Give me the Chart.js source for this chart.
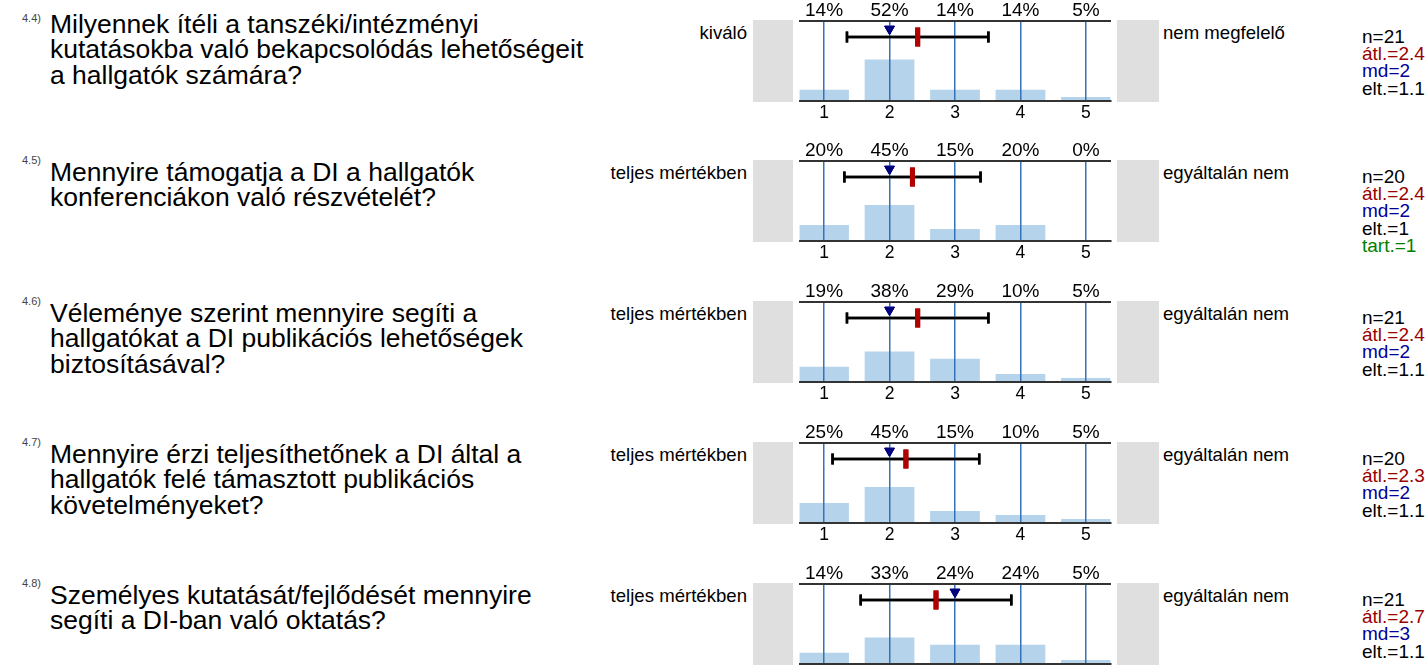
<!DOCTYPE html>
<html>
<head>
<meta charset="utf-8">
<title>DI kérdőív 4.4–4.8</title>
<script src="https://cdn.jsdelivr.net/npm/chart.js@4"></script>
<style>
  html, body { margin: 0; padding: 0; background: #fff; }
  body { position: relative; width: 1426px; height: 666px; overflow: hidden;
         font-family: "Liberation Sans", Arial, sans-serif; color: #000; }
  .abs { position: absolute; white-space: nowrap; }
  .code { font-size: 11px; line-height: 11px; color: #444; left: 22px; }
  .question { font-size: 26.5px; line-height: 25.5px; left: 50px; }
  .scale { font-size: 18.6px; line-height: 20px; }
  .stats { font-size: 19px; line-height: 17.2px; left: 1362px; }
  .box { position: absolute; background: #dfdfdf; }
  canvas { position: absolute; }
</style>
</head>
<body>
<script>
// answer options on the 1..5 scale
const categories = [1, 2, 3, 4, 5]

const codes = ['4.4)', '4.5)', '4.6)', '4.7)', '4.8)']
const questions = [
  ['Milyennek ítéli a tanszéki/intézményi', 'kutatásokba való bekapcsolódás lehetőségeit', 'a hallgatók számára?'],
  ['Mennyire támogatja a DI a hallgatók', 'konferenciákon való részvételét?'],
  ['Véleménye szerint mennyire segíti a', 'hallgatókat a DI publikációs lehetőségek', 'biztosításával?'],
  ['Mennyire érzi teljesíthetőnek a DI által a', 'hallgatók felé támasztott publikációs', 'követelményeket?'],
  ['Személyes kutatását/fejlődését mennyire', 'segíti a DI-ban való oktatás?']
]
const leftLabels = ['kiváló', 'teljes mértékben', 'teljes mértékben', 'teljes mértékben', 'teljes mértékben']
const rightLabels = ['nem megfelelő', 'egyáltalán nem', 'egyáltalán nem', 'egyáltalán nem', 'egyáltalán nem']

// share of answers per option, %
const percents = [
  [14, 52, 14, 14, 5],
  [20, 45, 15, 20, 0],
  [19, 38, 29, 10, 5],
  [25, 45, 15, 10, 5],
  [14, 33, 24, 24, 5]
]
// mean marker and whisker (mean ± sd), median triangle
const means = [2.43, 2.35, 2.43, 2.25, 2.71]
const sds = [1.08, 1.04, 1.08, 1.12, 1.15]
const medians = [2, 2, 2, 2, 3]

// stats column
const ns = [21, 20, 21, 20, 21]
const meanTexts = ['2.4', '2.4', '2.4', '2.3', '2.7']
const sdTexts = ['1.1', '1', '1.1', '1.1', '1.1']
const abstain = [null, 1, null, null, null]

// layout
const firstTop = 20.7
const panelStep = 140.75
const plotH = 80
const topAxisH = 24
const bottomAxisH = 26
const canvasLeft = 785
const canvasW = 340
const whiskerLevel = 80
const medianLevel = 90
const questionShift = [-9.5, -1.5, -1.5, -1.5, -1.5]

Chart.defaults.font.family = '"Liberation Sans", Arial, sans-serif'
Chart.defaults.color = '#000'

function addDiv(cls, html, css) {
  const d = document.createElement('div')
  d.className = cls
  d.innerHTML = html
  Object.assign(d.style, css)
  document.body.appendChild(d)
  return d
}

// draws the whisker + markers again so they sit above the blue grid lines
const overlay = {
  id: 'overlay',
  afterDraw(chart) {
    for (let k = chart.data.datasets.length - 1; k >= 0; k--) {
      if (chart.data.datasets[k].type === 'line') chart.getDatasetMeta(k).controller.draw()
    }
  }
}

percents.forEach((pct, i) => {
  const top = Math.round(firstTop + i * panelStep)

  addDiv('abs code', codes[i], { top: (top - 6.5 + (i === 0 ? -2 : 0)) + 'px' })
  addDiv('abs question', questions[i].join('<br>'), { top: (top + questionShift[i]) + 'px' })
  addDiv('abs scale', leftLabels[i], { top: (top + 1.5) + 'px', right: (1426 - 747) + 'px', textAlign: 'right' })
  addDiv('abs scale', rightLabels[i], { top: (top + 1.5) + 'px', left: '1163px' })

  let stats = 'n=' + ns[i] +
    '<br><span style="color:#990000">átl.=' + meanTexts[i] + '</span>' +
    '<br><span style="color:#000099">md=' + medians[i] + '</span>' +
    '<br>elt.=' + sdTexts[i]
  if (abstain[i] !== null) stats += '<br><span style="color:#008000">tart.=' + abstain[i] + '</span>'
  addDiv('abs stats', stats, { top: (top + 7) + 'px' })

  addDiv('box', '', { left: '753px', width: '40px', top: (top - 1) + 'px', height: (plotH + 2) + 'px' })
  addDiv('box', '', { left: '1117px', width: '42px', top: (top - 1) + 'px', height: (plotH + 2) + 'px' })

  const canvas = document.createElement('canvas')
  canvas.width = canvasW
  canvas.height = topAxisH + plotH + bottomAxisH
  canvas.style.left = canvasLeft + 'px'
  canvas.style.top = (top - topAxisH) + 'px'
  document.body.appendChild(canvas)

  const setTicks = s => { s.ticks = categories.map(v => ({ value: v })) }

  new Chart(canvas, {
    type: 'bar',
    data: {
      datasets: [
        {
          type: 'line',
          data: [{ x: medians[i], y: medianLevel }],
          showLine: false,
          pointStyle: 'triangle',
          pointRotation: 180,
          pointRadius: 5.6,
          pointBackgroundColor: '#00007f',
          pointBorderColor: '#00007f',
          pointBorderWidth: 1
        },
        {
          type: 'line',
          data: [{ x: means[i], y: whiskerLevel }],
          showLine: false,
          pointStyle: 'line',
          pointRotation: 90,
          pointRadius: 9.5,
          pointBorderWidth: 5,
          pointBorderColor: '#b00000'
        },
        {
          type: 'line',
          data: [{ x: means[i] - sds[i], y: whiskerLevel }, { x: means[i] + sds[i], y: whiskerLevel }],
          borderColor: '#000',
          borderWidth: 2.5,
          pointStyle: 'line',
          pointRotation: 90,
          pointRadius: 5.5,
          pointBorderWidth: 2.5,
          pointBorderColor: '#000'
        },
        {
          type: 'bar',
          data: categories.map((c, j) => ({ x: c, y: pct[j] })),
          backgroundColor: '#b5d4ec',
          barPercentage: 0.76,
          categoryPercentage: 1
        }
      ]
    },
    options: {
      responsive: false,
      animation: false,
      events: [],
      layout: { padding: { left: 10, right: 10, top: 0, bottom: 0 } },
      plugins: { legend: { display: false }, tooltip: { enabled: false } },
      scales: {
        x: {
          type: 'linear',
          position: 'bottom',
          min: 0.625,
          max: 5.375,
          offset: false,
          afterBuildTicks: setTicks,
          afterFit: s => { s.height = bottomAxisH },
          grid: { color: '#3573b8', lineWidth: 1.5, drawTicks: false, offset: false, z: 1 },
          border: { color: '#333', width: 2, z: 1 },
          ticks: { font: { size: 17.5 }, padding: 1.5 }
        },
        xTop: {
          type: 'linear',
          position: 'top',
          min: 0.625,
          max: 5.375,
          offset: false,
          afterBuildTicks: setTicks,
          afterFit: s => { s.height = topAxisH },
          grid: { display: false, drawTicks: false },
          border: { color: '#333', width: 2, z: 1 },
          ticks: { font: { size: 19 }, padding: -1, callback: v => pct[v - 1] + '%' }
        },
        y: { display: false, min: 0, max: 100 }
      }
    },
    plugins: [overlay]
  })
})
</script>
</body>
</html>
